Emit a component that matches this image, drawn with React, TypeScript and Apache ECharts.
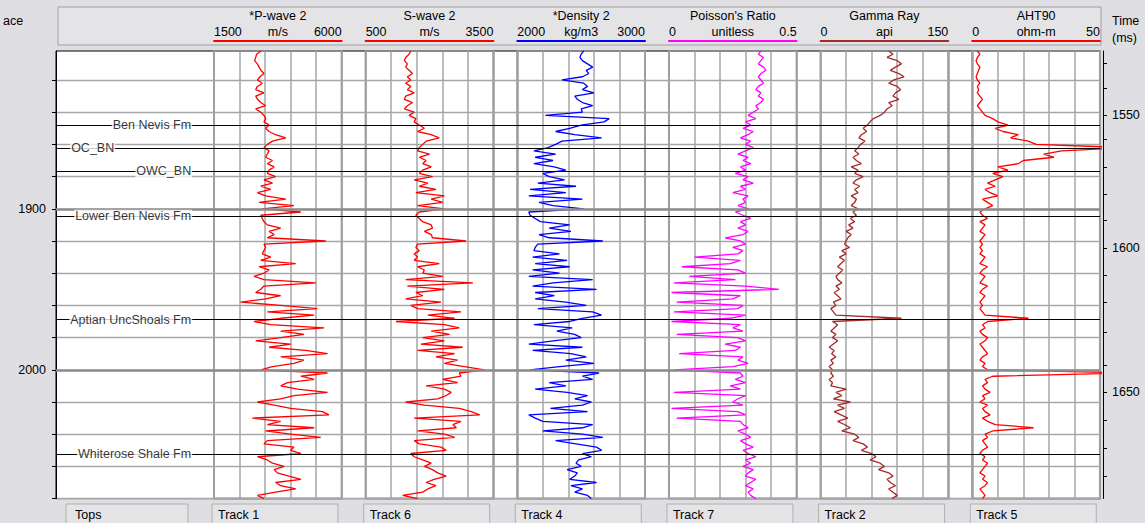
import React, { useEffect, useRef } from 'react';
import * as echarts from 'echarts';

// ---------------- DATA ----------------
const depths = [
  1802, 1804, 1806, 1808, 1810, 1812, 1814, 1816, 1818, 1820,
  1822, 1824, 1826, 1828, 1830, 1832, 1834, 1836, 1838, 1840,
  1842, 1844, 1846, 1848, 1850, 1852, 1854, 1856, 1858, 1860,
  1862, 1864, 1866, 1868, 1870, 1872, 1874, 1876, 1878, 1880,
  1882, 1884, 1886, 1888, 1890, 1892, 1894, 1896, 1898, 1900,
  1902, 1904, 1906, 1908, 1910, 1912, 1914, 1916, 1918, 1920,
  1922, 1924, 1926, 1928, 1930, 1932, 1934, 1936, 1938, 1940,
  1942, 1944, 1946, 1948, 1950, 1952, 1954, 1956, 1958, 1960,
  1962, 1964, 1966, 1968, 1970, 1972, 1974, 1976, 1978, 1980,
  1982, 1984, 1986, 1988, 1990, 1992, 1994, 1996, 1998, 2000,
  2002, 2004, 2006, 2008, 2010, 2012, 2014, 2016, 2018, 2020,
  2022, 2024, 2026, 2028, 2030, 2032, 2034, 2036, 2038, 2040,
  2042, 2044, 2046, 2048, 2050, 2052, 2054, 2056, 2058, 2060,
  2062, 2064, 2066, 2068, 2070, 2072, 2074, 2076, 2078, 2080,
];

const pWave = [
  3150, 3000, 2970, 2930, 3030, 3090, 3150, 3260, 3120, 3030,
  3200, 3030, 2970, 3260, 2970, 3030, 3150, 3320, 2970, 3150,
  3260, 3320, 3260, 3440, 3320, 3440, 3670, 4030, 3560, 3380,
  3260, 3440, 3380, 3320, 3560, 3380, 3620, 3440, 3380, 3670,
  3260, 3560, 3150, 3500, 3030, 3320, 4030, 3090, 4320, 3200,
  4560, 3150, 3200, 3260, 3380, 3850, 3440, 3620, 3380, 5440,
  3260, 3320, 3260, 3200, 3500, 3150, 4380, 3090, 3440, 3260,
  2910, 3260, 5080, 3260, 3150, 2970, 3850, 3320, 2440, 3850,
  5140, 3380, 5030, 3850, 2910, 3500, 5380, 3850, 4670, 3850,
  2970, 4200, 3440, 4730, 5500, 3850, 4670, 4320, 3560, 3150,
  5500, 4560, 5030, 4090, 3850, 4440, 5500, 4320, 3850, 3030,
  3620, 4200, 5320, 5550, 2850, 3850, 3380, 5030, 3320, 4200,
  5260, 3380, 3260, 4320, 4200, 4560, 3030, 3380, 3560, 3970,
  3620, 3730, 4140, 4560, 3670, 3850, 4380, 3670, 3030, 3260,
];

const sWave = [
  1560, 1520, 1440, 1410, 1480, 1440, 1520, 1600, 1480, 1560,
  1440, 1560, 1480, 1640, 1440, 1410, 1600, 1480, 1410, 1640,
  1520, 1680, 1640, 1760, 1880, 1720, 2040, 2230, 1920, 1840,
  1760, 1720, 2000, 1760, 1920, 1840, 2040, 1840, 1760, 2070,
  1640, 1960, 1760, 2150, 1680, 2350, 2040, 2310, 1720, 2350,
  1760, 1680, 1760, 1840, 2040, 2070, 1880, 2040, 2070, 2860,
  1720, 1680, 1760, 1640, 1720, 1640, 2230, 1720, 1880, 1840,
  2310, 1440, 3020, 1480, 2350, 1680, 1840, 1440, 2270, 1560,
  1720, 2740, 1960, 2590, 1210, 2350, 2700, 2040, 2470, 1840,
  2350, 1800, 2780, 1720, 2590, 2150, 2660, 2350, 2820, 3290,
  2700, 2740, 2310, 2660, 1920, 2350, 2510, 2390, 2190, 1440,
  1880, 2700, 2980, 3180, 1640, 2740, 2550, 2630, 1720, 2350,
  2590, 1640, 1760, 2270, 2390, 1560, 1640, 1840, 2040, 1880,
  2070, 2190, 2390, 2110, 1920, 2150, 1960, 1840, 1370, 1720,
];

const density = [
  2520, 2500, 2490, 2510, 2550, 2590, 2540, 2560, 2510, 2350,
  2520, 2550, 2510, 2600, 2450, 2470, 2510, 2590, 2500, 2510,
  2220, 2720, 2680, 2500, 2410, 2300, 2450, 2660, 2350, 2300,
  2240, 2130, 2300, 2140, 2280, 2130, 2290, 2380, 2200, 2250,
  2370, 2160, 2460, 2100, 2380, 2090, 2510, 2170, 2280, 2520,
  2090, 2100, 2140, 2180, 2410, 2250, 2420, 2170, 2250, 2670,
  2160, 2140, 2130, 2330, 2120, 2390, 2140, 2410, 2120, 2330,
  2090, 2590, 2280, 2120, 2620, 2140, 2290, 2140, 2380, 2540,
  2160, 2590, 2660, 2510, 2410, 2130, 2430, 2310, 2450, 2500,
  2280, 2090, 2510, 2120, 2420, 2540, 2380, 2600, 2330, 2100,
  2640, 2510, 2590, 2250, 2380, 2140, 2390, 2550, 2450, 2580,
  2510, 2260, 2550, 2090, 2140, 2200, 2590, 2510, 2200, 2510,
  2670, 2300, 2460, 2620, 2660, 2510, 2580, 2480, 2460, 2500,
  2390, 2470, 2450, 2410, 2620, 2420, 2510, 2450, 2550, 2580,
];

const poisson = [
  0.36, 0.35, 0.37, 0.36, 0.35, 0.37, 0.38, 0.36, 0.35, 0.36,
  0.37, 0.35, 0.34, 0.36, 0.35, 0.37, 0.36, 0.34, 0.35, 0.33,
  0.31, 0.34, 0.30, 0.32, 0.29, 0.33, 0.31, 0.28, 0.32, 0.30,
  0.33, 0.30, 0.27, 0.31, 0.29, 0.32, 0.28, 0.30, 0.26, 0.31,
  0.29, 0.33, 0.28, 0.30, 0.25, 0.31, 0.29, 0.30, 0.27, 0.31,
  0.26, 0.29, 0.32, 0.28, 0.30, 0.27, 0.31, 0.29, 0.22, 0.28,
  0.30, 0.25, 0.29, 0.27, 0.10, 0.28, 0.24, 0.05, 0.27, 0.30,
  0.08, 0.26, 0.02, 0.30, 0.43, 0.01, 0.28, 0.25, 0.03, 0.29,
  0.27, 0.02, 0.30, 0.24, 0.01, 0.28, 0.25, 0.29, 0.03, 0.27,
  0.30, 0.22, 0.28, 0.26, 0.04, 0.29, 0.27, 0.31, 0.25, 0.02,
  0.28, 0.29, 0.26, 0.30, 0.24, 0.28, 0.02, 0.30, 0.27, 0.25,
  0.29, 0.01, 0.27, 0.30, 0.03, 0.28, 0.29, 0.31, 0.27, 0.30,
  0.32, 0.28, 0.30, 0.33, 0.29, 0.31, 0.34, 0.30, 0.32, 0.29,
  0.33, 0.31, 0.30, 0.34, 0.32, 0.30, 0.33, 0.31, 0.32, 0.34,
];

const gammaRay = [
  80, 85, 78, 90, 95, 88, 82, 92, 98, 86,
  80, 90, 94, 88, 85, 92, 80, 84, 78, 75,
  70, 62, 58, 55, 50, 54, 48, 45, 52, 47,
  44, 40, 45, 38, 42, 48, 36, 44, 40, 50,
  42, 38, 46, 40, 44, 36, 42, 40, 36, 44,
  38, 42, 35, 40, 33, 38, 30, 36, 32, 30,
  28, 34, 25, 30, 22, 28, 24, 20, 26, 22,
  18, 20, 25, 18, 22, 16, 20, 24, 15, 18,
  12, 15, 18, 95, 14, 20, 16, 12, 18, 14,
  20, 15, 10, 16, 13, 18, 12, 15, 10, 14,
  12, 15, 10, 14, 12, 30, 18, 25, 15, 35,
  20, 28, 16, 24, 32, 20, 28, 35, 25, 40,
  45, 38, 50, 55, 48, 60, 65, 58, 70, 75,
  68, 80, 85, 78, 82, 88, 80, 85, 90, 84,
];

const aht90 = [
  2, 3, 2, 1.5, 2, 3, 2.5, 2, 1.5, 2,
  3, 2, 2.5, 2, 3, 4, 3, 2, 3, 4,
  5, 8, 10, 14, 9, 12, 18, 15, 22, 25,
  60, 35, 28, 32, 20, 18, 10, 14, 8, 12,
  9, 6, 9, 5, 7, 10, 4, 6, 8, 5,
  3, 4, 6, 3, 5, 4, 3, 5, 4, 3,
  4, 3, 4, 3, 5, 4, 3, 6, 4, 3,
  5, 4, 3, 6, 4, 3, 5, 4, 3, 4,
  3, 4, 5, 22, 6, 4, 5, 3, 4, 6,
  5, 3, 4, 5, 6, 4, 3, 5, 4, 6,
  60, 8, 5, 6, 4, 5, 7, 4, 5, 3,
  6, 4, 5, 7, 4, 6, 9, 24, 8, 5,
  6, 4, 5, 6, 4, 3, 5, 4, 6, 5,
  4, 3, 5, 4, 6, 5, 3, 4, 5, 4,
];

const topNames = ['Ben Nevis Fm', 'OC_BN', 'OWC_BN', 'Lower Ben Nevis Fm', 'Aptian UncShoals Fm', 'Whiterose Shale Fm'];
const topDepths = [1848.2, 1862.3, 1876.8, 1904.7, 1968.9, 2052.4];

const depthTicks = [1820, 1840, 1860, 1880, 1900, 1920, 1940, 1960, 1980, 2000, 2020, 2040, 2060, 2080];
const depthLabels = [1900, 2000];

const timeLabels = [1530, 1540, 1550, 1560, 1570, 1580, 1590, 1600, 1610, 1620, 1630, 1640, 1650, 1660, 1670, 1680];
const timeDepths = [1809.5, 1825.0, 1841.8, 1856.7, 1874.1, 1890.9, 1907.0, 1924.4, 1941.2, 1957.9, 1976.6, 1997.1, 2013.9, 2031.3, 2048.6, 2066.0];

const trackTitles = ['*P-wave 2', 'S-wave 2', '*Density 2', "Poisson's Ratio", 'Gamma Ray', 'AHT90'];
const trackUnits = ['m/s', 'm/s', 'kg/m3', 'unitless', 'api', 'ohm-m'];
const trackMins = [1500, 500, 2000, 0, 0, 0];
const trackMaxs = [6000, 3500, 3000, 0.5, 150, 50];
const trackColors = ['#ff0000', '#ff0000', '#0000ff', '#ff00ff', '#a52a2a', '#ff0000'];
const trackData = [pWave, sWave, density, poisson, gammaRay, aht90];
const tabNames = ['Tops', 'Track 1', 'Track 6', 'Track 4', 'Track 7', 'Track 2', 'Track 5'];

// ---------------- LAYOUT ----------------
const FONT = '"Liberation Sans", Arial, sans-serif';
const FS = 12.5;
const PLOT_TOP = 51;
const PLOT_H = 447.6;
const PLOT_LEFT = 56;
const PLOT_RIGHT = 1100;
const TRACK_LEFT0 = 214;
const TRACK_STEP = 151.65;
const TRACK_W = 127.7;
const D_MIN = 1802;
const D_MAX = 2080;
const GRID_GRAY = '#a6a6a6';

function buildOption(): any {
  const txt = { fontSize: FS, fontFamily: FONT, color: '#000' };
  const grids: any[] = [
    { left: PLOT_LEFT, top: PLOT_TOP, width: PLOT_RIGHT - PLOT_LEFT, height: PLOT_H, show: true, backgroundColor: '#ffffff', borderColor: '#000', borderWidth: 1 },
    { left: PLOT_LEFT, top: PLOT_TOP, width: TRACK_LEFT0 - PLOT_LEFT, height: PLOT_H },
  ];
  trackTitles.forEach((_, i) => {
    grids.push({ left: TRACK_LEFT0 + i * TRACK_STEP, top: PLOT_TOP, width: TRACK_W, height: PLOT_H, show: true, backgroundColor: 'transparent', borderColor: '#8a8a8a', borderWidth: 2 });
  });

  const xAxes: any[] = [
    { gridIndex: 0, type: 'value', min: 0, max: 1, show: false },
    { gridIndex: 1, type: 'value', min: 0, max: 1, show: false },
  ];
  const bare = { axisLine: { show: false }, axisTick: { show: false }, axisLabel: { show: false }, splitLine: { show: false } };
  trackTitles.forEach((title, i) => {
    const mn = trackMins[i];
    const mx = trackMaxs[i];
    xAxes.push({
      gridIndex: 2 + i, type: 'value', position: 'top', offset: 10, min: mn, max: mx, interval: (mx - mn) / 5,
      axisLine: { show: true, onZero: false, lineStyle: { color: trackColors[i], width: 2 } },
      axisTick: { show: false },
      axisLabel: {
        show: true, margin: 3, ...txt, showMinLabel: true, showMaxLabel: true,
        alignMinLabel: 'left', alignMaxLabel: 'right',
        formatter: (v: number) => (Math.abs(v - mn) < 1e-9 || Math.abs(v - mx) < 1e-9 ? String(v) : ''),
      },
      splitLine: { show: true, lineStyle: { color: GRID_GRAY, width: 1.5 } },
    });
    xAxes.push({
      gridIndex: 2 + i, type: 'value', position: 'top', offset: 10, min: mn, max: mx, ...bare,
      name: trackUnits[i], nameLocation: 'middle', nameGap: 3, nameTextStyle: txt,
    });
    xAxes.push({
      gridIndex: 2 + i, type: 'value', position: 'top', offset: 29, min: mn, max: mx, ...bare,
      name: title, nameLocation: 'middle', nameGap: 0, nameTextStyle: txt,
    });
  });

  const yBase = { type: 'value', inverse: true, min: D_MIN, max: D_MAX };
  const timeLabelDepths = timeDepths.filter((_, i) => timeLabels[i] % 50 === 0);
  const yAxes: any[] = [
    {
      ...yBase, gridIndex: 0, position: 'left',
      axisLine: { show: true, onZero: false, lineStyle: { color: '#000', width: 1 } },
      axisTick: { show: true, customValues: depthTicks, length: 4, lineStyle: { color: '#000' } },
      axisLabel: { show: true, customValues: depthLabels, margin: 10, ...txt, formatter: (v: number) => String(v) },
      splitLine: { show: true, lineStyle: { color: GRID_GRAY, width: 1.3 } },
    },
    {
      ...yBase, gridIndex: 0, position: 'right', offset: 3,
      axisLine: { show: true, onZero: false, lineStyle: { color: '#000', width: 1 } },
      axisTick: { show: true, customValues: timeDepths, length: 4, lineStyle: { color: '#000' } },
      axisLabel: {
        show: true, customValues: timeLabelDepths, margin: 9, ...txt,
        formatter: (v: number) => {
          const k = timeDepths.findIndex((d) => Math.abs(d - v) < 1e-6);
          return k >= 0 ? String(timeLabels[k]) : '';
        },
      },
      splitLine: { show: false },
    },
    { ...yBase, gridIndex: 1, show: false },
  ];
  trackTitles.forEach((_, i) => yAxes.push({ ...yBase, gridIndex: 2 + i, show: false }));

  const series: any[] = [
    {
      type: 'line', xAxisIndex: 0, yAxisIndex: 0, data: [], silent: true,
      markLine: { silent: true, symbol: ['none', 'none'], label: { show: false }, lineStyle: { color: '#8c8c8c', width: 2.5, type: 'solid' }, data: depthLabels.map((d) => ({ yAxis: d })) },
    },
    {
      type: 'line', xAxisIndex: 0, yAxisIndex: 0, data: [], silent: true, z: 2,
      markLine: { silent: true, symbol: ['none', 'none'], label: { show: false }, lineStyle: { color: '#000', width: 1.2, type: 'solid' }, data: topDepths.map((d) => ({ yAxis: d })) },
    },
    {
      type: 'scatter', xAxisIndex: 1, yAxisIndex: 2, symbolSize: 1, itemStyle: { color: 'rgba(0,0,0,0)' }, z: 6, silent: true,
      data: topNames.map((n, i) => ({ name: n, value: [n === 'OC_BN' ? 0.378 : 0.865, topDepths[i]] })),
      label: { show: true, position: 'left', distance: 0, formatter: '{b}', ...txt, backgroundColor: '#ffffff', padding: [0, 1, 0, 1] },
    },
  ];
  trackData.forEach((vals, i) => {
    series.push({
      type: 'line', xAxisIndex: 2 + 3 * i, yAxisIndex: 3 + i,
      data: depths.map((d, k) => [vals[k], d]),
      showSymbol: false, symbol: 'none', clip: true, z: 4,
      lineStyle: { color: trackColors[i], width: 1.3 },
    });
  });

  const graphic: any[] = [
    { type: 'rect', z: -1, shape: { x: 58, y: 7, width: 1043, height: 38 }, style: { fill: '#e4e4e7', stroke: '#a0a0a0', lineWidth: 1 } },
    { type: 'text', x: 3, y: 14, style: { text: 'ace', font: `${FS}px ${FONT}`, fill: '#000' } },
    { type: 'text', x: 1112, y: 14, style: { text: 'Time', font: `${FS}px ${FONT}`, fill: '#000' } },
    { type: 'text', x: 1112, y: 31, style: { text: '(ms)', font: `${FS}px ${FONT}`, fill: '#000' } },
  ];
  tabNames.forEach((name, i) => {
    const x = i === 0 ? 66 : TRACK_LEFT0 - 2 + (i - 1) * TRACK_STEP;
    const w = i === 0 ? 122 : 126;
    graphic.push({ type: 'rect', z: -1, shape: { x, y: 504, width: w, height: 22 }, style: { fill: '#e4e4e7', stroke: '#b0b0b0', lineWidth: 1 } });
    graphic.push({ type: 'text', x: x + (i === 0 ? 9 : 6), y: 508, style: { text: name, font: `${FS}px ${FONT}`, fill: '#000' } });
  });

  return {
    animation: false,
    backgroundColor: '#dfdfe3',
    grid: grids,
    xAxis: xAxes,
    yAxis: yAxes,
    series,
    graphic,
  };
}

export default function App() {
  const ref = useRef<HTMLDivElement>(null);
  useEffect(() => {
    document.body.style.margin = '0';
    const chart = echarts.init(ref.current as HTMLDivElement, null, { renderer: 'svg' });
    chart.setOption(buildOption());
    return () => chart.dispose();
  }, []);
  return <div ref={ref} style={{ width: 1145, height: 523 }} />;
}
